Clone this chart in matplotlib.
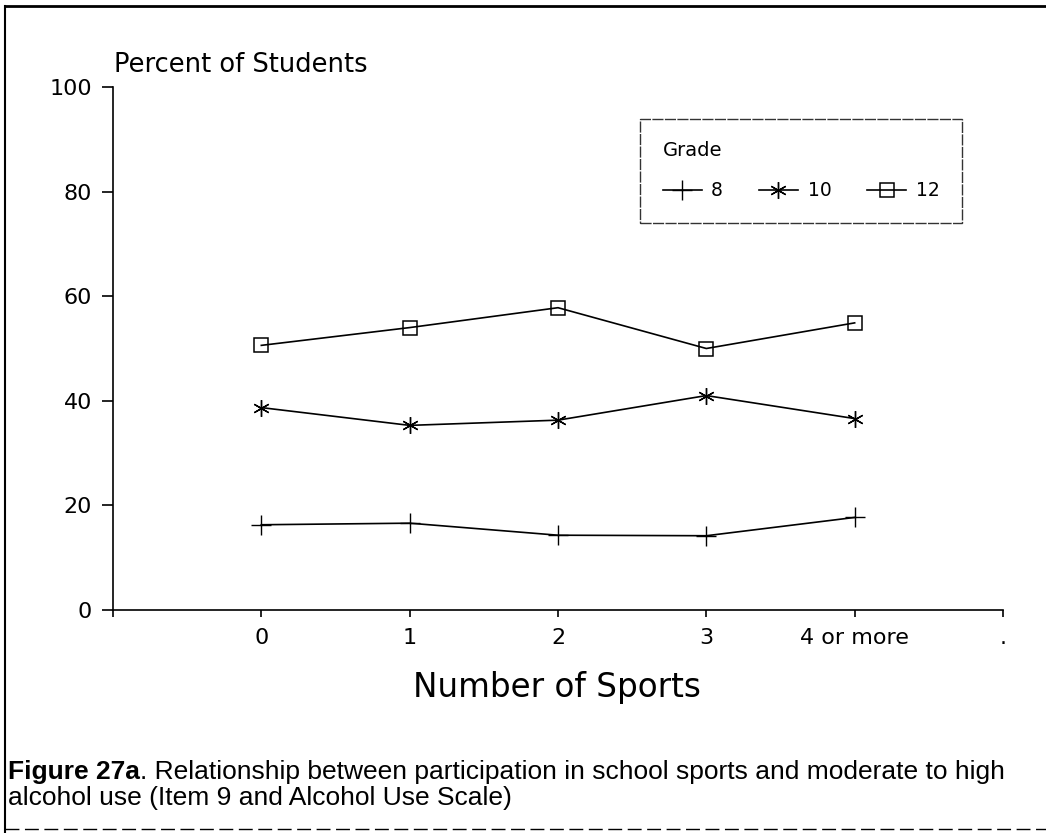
import matplotlib
matplotlib.use("Agg")
import matplotlib.pyplot as plt
from matplotlib.lines import Line2D
from matplotlib import font_manager

# ---- data ----
sports_labels = ["0", "1", "2", "3", "4 or more"]
grades = ["8", "10", "12"]
grade8 = [16.3, 16.6, 14.3, 14.2, 17.7]
grade10 = [38.7, 35.3, 36.3, 41.0, 36.6]
grade12 = [50.6, 54.0, 57.8, 50.0, 54.9]
y_ticks = [0, 20, 40, 60, 80, 100]

W, H = 1046, 833
fig = plt.figure(figsize=(W / 100, H / 100), dpi=100)
fig.patch.set_facecolor("white")

names = {f.name for f in font_manager.fontManager.ttflist}
cap_font = "Liberation Sans" if "Liberation Sans" in names else "DejaVu Sans"
plt.rcParams["font.family"] = ["DejaVu Sans"]

ax = fig.add_axes([113 / W, 1 - 610 / H, (1003 - 113) / W, (610 - 87) / H])
x = list(range(len(sports_labels)))
ax.plot(x, grade8, color="black", lw=1.2, marker="+", markersize=14, mew=1.0, label=grades[0])
ax.plot(x, grade10, color="black", lw=1.2, marker=(6, 2, 0), markersize=12, mew=1.0, label=grades[1])
ax.plot(x, grade12, color="black", lw=1.2, marker="s", markersize=10, mfc="none", mew=1.1, label=grades[2])

ax.set_xlim(-1, 5)
ax.set_ylim(0, 100)
for s in ["top", "right"]:
    ax.spines[s].set_visible(False)
for s in ["left", "bottom"]:
    ax.spines[s].set_linewidth(1.2)
ax.set_xticks([-1] + x + [5])
ax.set_xticklabels([""] + sports_labels + ["."])
ax.set_yticks(y_ticks)
ax.set_yticklabels([str(v) for v in y_ticks])
ax.tick_params(axis="y", direction="out", length=8, width=1.2, labelsize=16, pad=7)
ax.tick_params(axis="x", direction="out", length=5, width=1.2, labelsize=16, pad=8)
ax.set_facecolor("white")

fig.text(114 / W, 1 - 65 / H, "Percent of Students", fontsize=18.5, ha="left", va="center")
fig.text(557 / W, 1 - 688 / H, "Number of Sports", fontsize=23.5, ha="center", va="center")

leg = ax.legend(title="Grade", ncol=3, loc="upper left",
                bbox_to_anchor=(640 / W, 1 - 119 / H), bbox_transform=fig.transFigure,
                fontsize=13.5, title_fontsize=14, frameon=True, fancybox=False,
                edgecolor="black", borderaxespad=0, handlelength=2.1, columnspacing=1.9,
                borderpad=1.2, handletextpad=0.5, labelspacing=1.1)
leg._legend_box.align = "left"
leg.get_frame().set_linewidth(1.0)
leg.get_frame().set_linestyle((0, (8, 1)))

# caption
renderer = fig.canvas.get_renderer()
t1 = fig.text(8 / W, 1 - 772 / H, "Figure 27a", fontsize=19, fontweight="bold",
              family=[cap_font, "DejaVu Sans"], ha="left", va="center")
bb = t1.get_window_extent(renderer=renderer)
fig.text(bb.x1 / W, 1 - 772 / H,
         ". Relationship between participation in school sports and moderate to high",
         fontsize=19, family=[cap_font, "DejaVu Sans"], ha="left", va="center")
fig.text(8 / W, 1 - 798 / H, "alcohol use (Item 9 and Alcohol Use Scale)",
         fontsize=19, family=[cap_font, "DejaVu Sans"], ha="left", va="center")

# page frame
fig.add_artist(Line2D([5 / W, 5 / W], [0, 1 - 6 / H], transform=fig.transFigure, color="black", lw=1.5))
fig.add_artist(Line2D([5 / W, 1], [1 - 6 / H, 1 - 6 / H], transform=fig.transFigure, color="black", lw=2))
fig.add_artist(Line2D([5 / W, 1], [1 - 829 / H, 1 - 829 / H], transform=fig.transFigure,
                      color="black", lw=1, ls=(0, (10, 4))))

fig.savefig("out.png", dpi=100)
